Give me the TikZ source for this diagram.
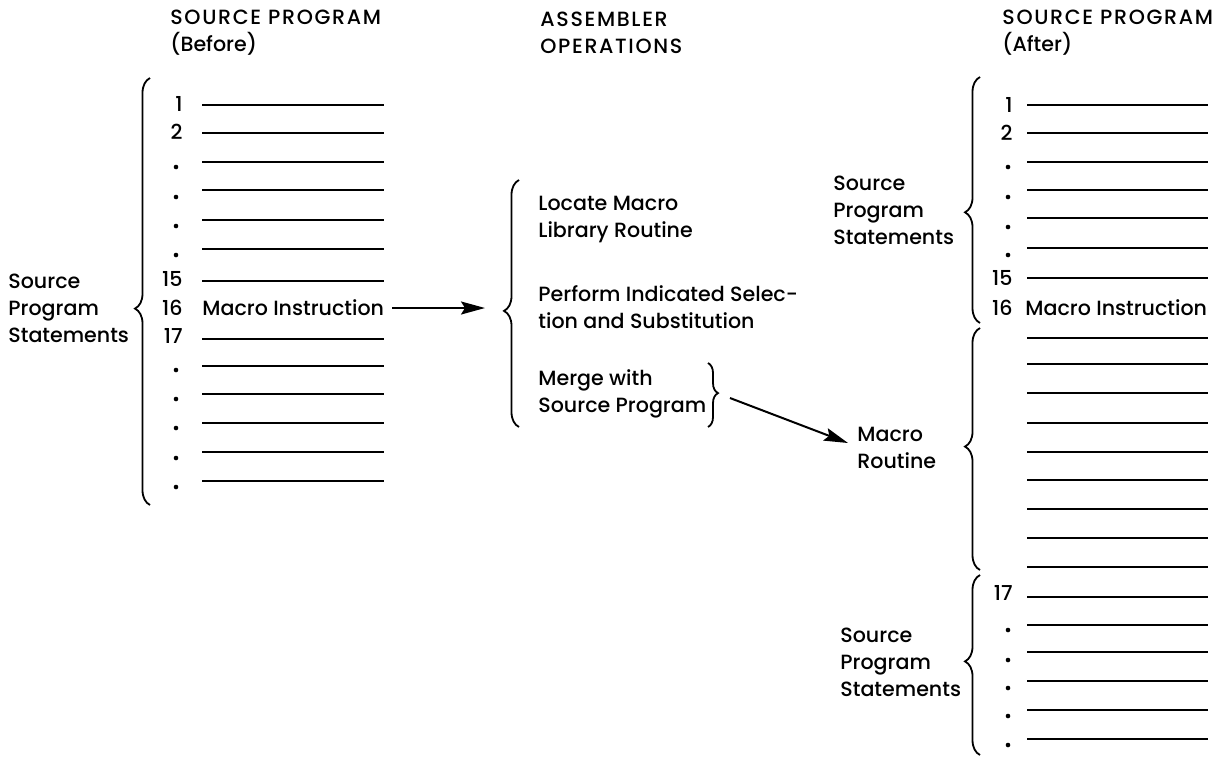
\documentclass[tikz,border=0pt]{standalone}
\usepackage{fontspec}
\setmainfont{Poppins Medium}
\usetikzlibrary{arrows.meta,decorations.pathreplacing}
\begin{document}
\begin{tikzpicture}[x=0.5pt,y=-0.5pt,
  txt/.style={inner sep=0pt,font=\fontsize{10.3}{13.5}\selectfont,align=left},
  num/.style={txt,anchor=east},
  rule/.style={line width=1.4pt},
  dotmark/.style={fill=black,draw=none},
  brc/.style={decorate,decoration={brace,amplitude=7.5pt,aspect=#1},line width=0.9pt},
  brc/.default=0.5,
  smallbrc/.style={decorate,decoration={brace,amplitude=5pt,aspect=#1},line width=0.9pt},
  arr/.style={line width=1pt,-{Stealth[length=12pt,width=6.5pt,inset=2pt]}}]
\useasboundingbox (0,0) rectangle (1225,757);

% spaced capitals for the column headings
\newcommand{\headcaps}[1]{{\addfontfeatures{LetterSpace=8}#1}}

% ---------- column headings ----------
\node[txt,anchor=west] (hbefore) at (170,33) {\headcaps{SOURCE PROGRAM}\\(Before)};
\node[txt,anchor=west] (hops)    at (540,33) {\headcaps{ASSEMBLER}\\\headcaps{OPERATIONS}};
\node[txt,anchor=west] (hafter)  at (1002,33) {\headcaps{SOURCE PROGRAM}\\(After)};

% ---------- source program before expansion ----------
\draw[brc=0.46] (150,505) -- (150,78);
\node[txt,anchor=west] (srcL) at (8,308) {Source\\Program\\Statements};

\node[num] (b1)  at (183,104) {1};
\node[num] (b2)  at (183,132) {2};
\node[num] (b15) at (183,279) {15};
\node[num] (b16) at (183,308) {16};
\node[num] (b17) at (183,336) {17};
\foreach \y in {167,197,226,255,370,399,428,458,487}
  \fill[dotmark] (176,\y) circle (2.3);
\foreach \y in {105,133,162,190,220,249,281,339,366,394,423,452,481}
  \draw[rule] (202,\y) -- (384,\y);
\node[txt,anchor=west] (miL) at (202,308) {Macro Instruction};

% ---------- assembler operations ----------
\draw[brc=0.47] (519,427) -- (519,180);
\node[txt,anchor=west] (locate)  at (538,219) {Locate Macro\\Library Routine};
\node[txt,anchor=west] (perform) at (538,307) {Perform Indicated Selec-\\tion and Substitution};
\node[txt,anchor=west] (merge)   at (538,394) {Merge with\\Source Program};
\draw[smallbrc=0.47] (708,363) -- (708,427);

\coordinate (opsin)    at (485,308);
\coordinate (mergeout) at (730,398);
\coordinate (mrin)     at (848,443);

% ---------- source program after expansion ----------
\draw[brc=0.45] (980,323) -- (980,77);
\draw[brc=0.51] (980,570) -- (980,328);
\draw[brc=0.52] (980,755) -- (980,575);

\node[txt,anchor=west] (srcR1) at (833,210) {Source\\Program\\Statements};
\node[txt,anchor=west] (mr)    at (857,448) {Macro\\Routine};
\node[txt,anchor=west] (srcR2) at (840,662) {Source\\Program\\Statements};

\node[num] (a1)  at (1013,105) {1};
\node[num] (a2)  at (1013,133) {2};
\node[num] (a15) at (1013,278) {15};
\node[num] (a16) at (1013,308) {16};
\node[num] (a17) at (1013,593) {17};
\foreach \y in {167,197,227,255,630,660,688,716,745}
  \fill[dotmark] (1008,\y) circle (2.3);
\foreach \y in {105,133,162,190,218,248,278,
                338,364,393,423,452,480,509,538,567,
                597,625,652,681,710,739}
  \draw[rule] (1027,\y) -- (1208,\y);
\node[txt,anchor=west] (miR) at (1025,308) {Macro Instruction};

% ---------- flow arrows ----------
\draw[arr] ([xshift=4pt]miL.east) -- (opsin);
\draw[arr] (mergeout) -- (mrin);
\end{tikzpicture}
\end{document}
